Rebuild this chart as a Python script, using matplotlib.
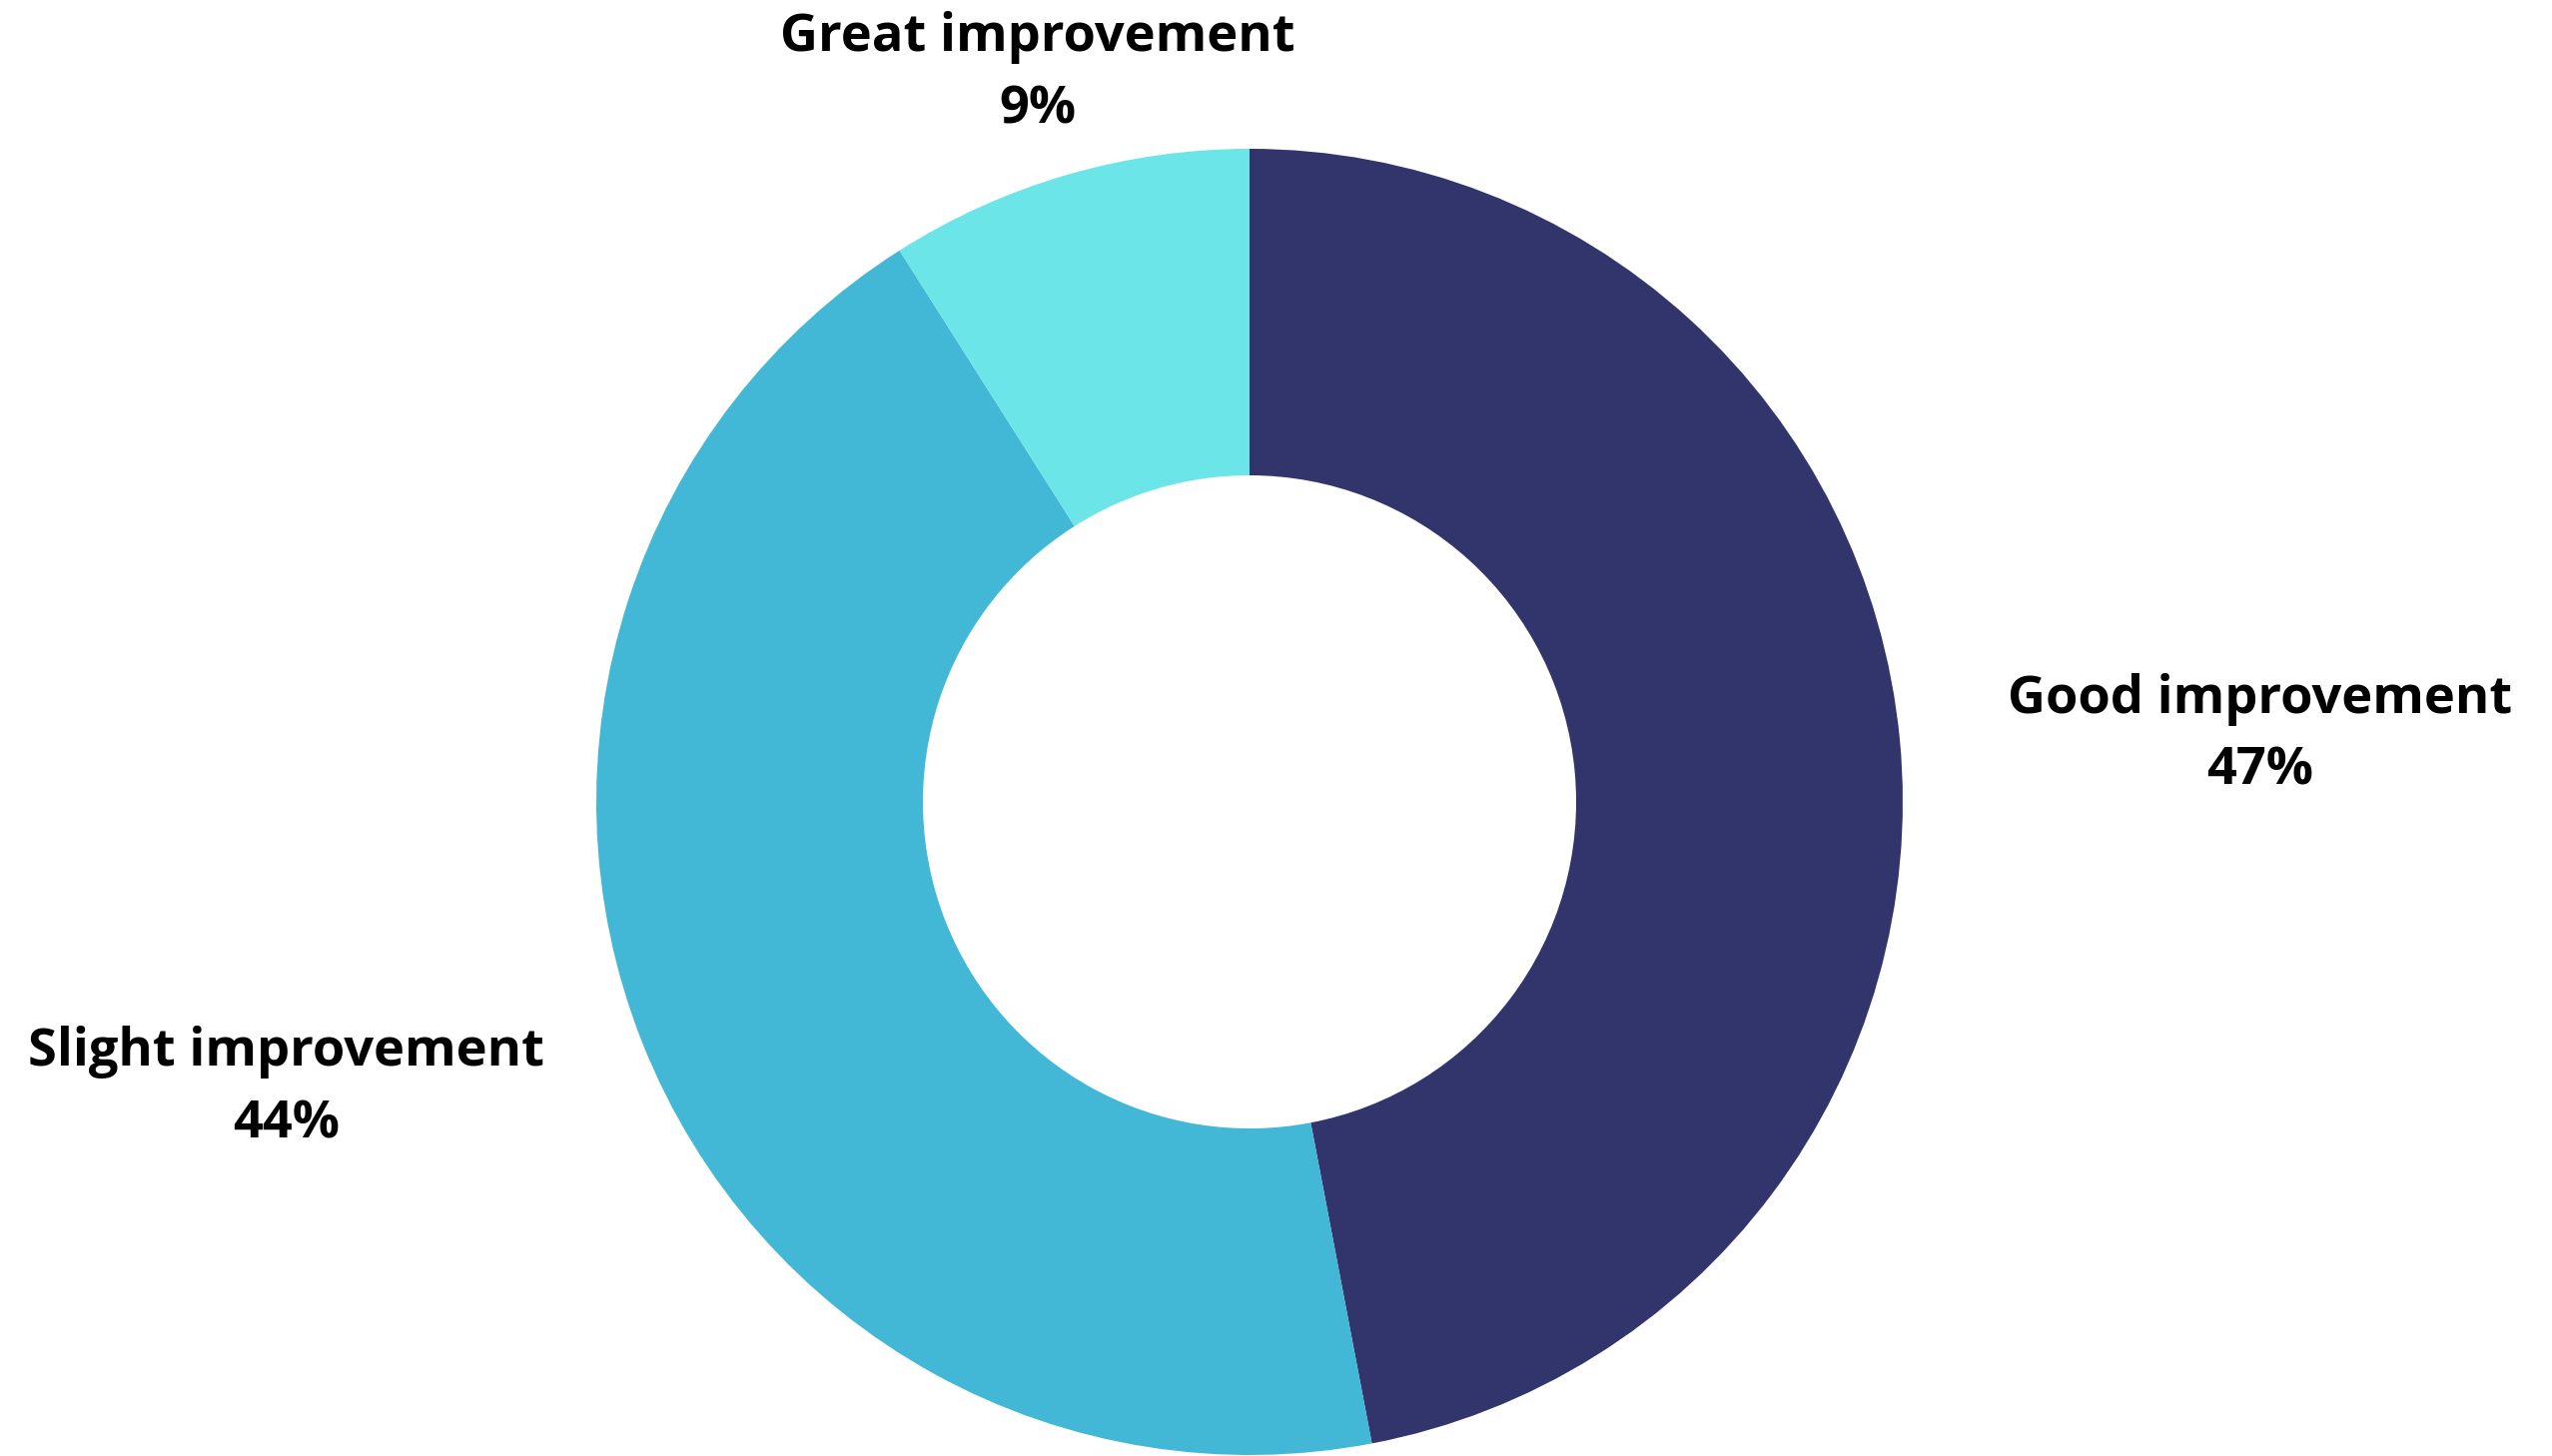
import numpy as np
import matplotlib
matplotlib.use("Agg")
import matplotlib.pyplot as plt

plt.rcParams['font.family'] = ['Open Sans', 'DejaVu Sans']

# improvement categories, clockwise from 12 o'clock
categories = ['Good improvement', 'Slight improvement', 'Great improvement']
shares = [47, 44, 9]
colors = ['#31356B', '#42B7D6', '#6BE5E8']

# horizontal placement of each label (data units, ring radius = 1)
label_x = [1.547, -1.475, -0.325]
label_r = 1.17

W, H = 2555, 1458
fig = plt.figure(figsize=(W / 100, H / 100), dpi=100)
fig.patch.set_facecolor('white')

# square axes holding the ring, radius 654 px, centre at (1251, 655)
cx, cy, R = 1251, 655, 654
ax = fig.add_axes([(cx - R) / W, (cy - R) / H, 2 * R / W, 2 * R / H])

wedges, _ = ax.pie(shares, colors=colors, startangle=90, counterclock=False,
                   radius=1.0, wedgeprops=dict(width=0.5, edgecolor='none'))
ax.set_xlim(-1, 1)
ax.set_ylim(-1, 1)
ax.set_aspect('equal')
ax.axis('off')

for w, name, val, lx in zip(wedges, categories, shares, label_x):
    mid = np.deg2rad((w.theta1 + w.theta2) / 2)
    ly = label_r * np.sin(mid) - 0.008
    ax.text(lx, ly, f'{name}\n{val}%', ha='center', va='center', multialignment='center',
            fontsize=37.7, fontweight='bold', color='#000000', linespacing=1.48, clip_on=False)

fig.savefig('out.png', dpi=100, facecolor='white')
